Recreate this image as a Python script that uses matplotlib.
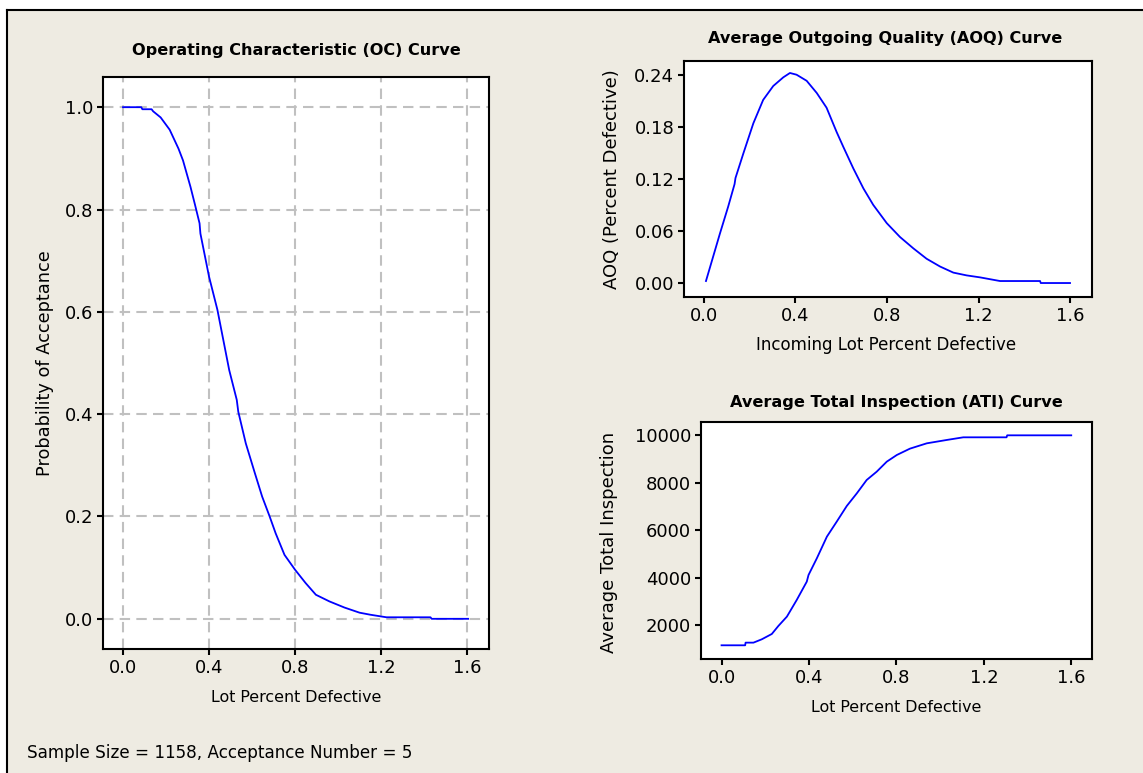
import matplotlib
matplotlib.use("Agg")
import matplotlib.pyplot as plt
from matplotlib.patches import Rectangle
from matplotlib.lines import Line2D

# ── Data (Minitab acceptance sampling plan) ──
oc_x = [0.0, 0.085, 0.09, 0.133, 0.14, 0.175, 0.217, 0.258, 0.279, 0.314,
        0.335, 0.356, 0.36, 0.4, 0.439, 0.494, 0.529, 0.536, 0.571, 0.613,
        0.647, 0.682, 0.71, 0.751, 0.8, 0.849, 0.897, 0.96, 1.03, 1.10,
        1.15, 1.225, 1.43, 1.435, 1.605]
oc_y = [1.0, 1.0, 0.996, 0.996, 0.992, 0.980, 0.956, 0.919, 0.896, 0.844,
        0.809, 0.773, 0.753, 0.669, 0.604, 0.486, 0.428, 0.405, 0.343, 0.285,
        0.239, 0.200, 0.167, 0.125, 0.096, 0.070, 0.047, 0.034, 0.022, 0.012,
        0.008, 0.003, 0.003, 0.0, 0.0]

aoq_x = [0.009, 0.07, 0.106, 0.134, 0.138, 0.172, 0.216, 0.259, 0.303, 0.347,
         0.376, 0.405, 0.449, 0.493, 0.536, 0.58, 0.609, 0.653, 0.697, 0.74,
         0.799, 0.857, 0.915, 0.973, 1.032, 1.09, 1.148, 1.207, 1.294, 1.469,
         1.472, 1.6]
aoq_y = [0.0023, 0.057, 0.088, 0.114, 0.121, 0.149, 0.184, 0.211, 0.227, 0.237,
         0.242, 0.240, 0.233, 0.219, 0.202, 0.174, 0.157, 0.132, 0.109, 0.090,
         0.069, 0.053, 0.040, 0.028, 0.019, 0.012, 0.0088, 0.0065, 0.0023, 0.0023,
         0.0, 0.0]

ati_x = [0.0, 0.108, 0.11, 0.146, 0.184, 0.23, 0.26, 0.299, 0.344, 0.39,
         0.398, 0.436, 0.482, 0.527, 0.573, 0.619, 0.664, 0.71, 0.756, 0.802,
         0.862, 0.939, 1.03, 1.106, 1.304, 1.307, 1.6]
ati_y = [1158, 1158, 1270, 1270, 1410, 1635, 1972, 2365, 3067, 3839,
         4119, 4821, 5733, 6365, 7025, 7558, 8119, 8470, 8891, 9172,
         9439, 9663, 9804, 9916, 9916, 10000, 10000]

x_ticks = [0.0, 0.4, 0.8, 1.2, 1.6]
oc_yticks = [0.0, 0.2, 0.4, 0.6, 0.8, 1.0]
aoq_yticks = [0.00, 0.06, 0.12, 0.18, 0.24]
ati_yticks = [2000, 4000, 6000, 8000, 10000]

footnote = "Sample Size = 1158, Acceptance Number = 5"

W, H = 1143, 773
BG = "#EEEBE2"
BLUE = "#0000FF"
FONT = "DejaVu Sans"

plt.rcParams["font.family"] = FONT

fig = plt.figure(figsize=(W / 100, H / 100), dpi=100)
fig.patch.set_facecolor("white")

# beige panel with black top/left frame
fig.patches.append(Rectangle((8 / W, 0), 1, 1 - 11 / H, transform=fig.transFigure,
                             facecolor=BG, edgecolor="none", zorder=-5))
fig.lines.append(Line2D([7 / W, 1], [1 - 10 / H, 1 - 10 / H], transform=fig.transFigure,
                        color="black", lw=1.5, zorder=-4))
fig.lines.append(Line2D([7 / W, 7 / W], [0, 1 - 10 / H], transform=fig.transFigure,
                        color="black", lw=1.5, zorder=-4))


def make_axes(l, t, r, b):
    ax = fig.add_axes([l / W, 1 - b / H, (r - l) / W, (b - t) / H])
    ax.set_facecolor("white")
    for s in ax.spines.values():
        s.set_linewidth(1.5)
        s.set_color("black")
    ax.tick_params(direction="out", length=4, width=1.5, labelsize=13,
                   top=False, right=False, pad=3)
    return ax


def ftext(x, y, s, **kw):
    fig.text(x / W, 1 - y / H, s, **kw)


# ── OC curve ──
ax1 = make_axes(103, 77, 489, 649)
ax1.plot(oc_x, oc_y, color=BLUE, lw=1.3)
ax1.set_xlim(-0.093, 1.702)
ax1.set_ylim(-0.059, 1.059)
ax1.set_xticks(x_ticks)
ax1.set_yticks(oc_yticks)
ax1.set_xticklabels([f"{v:.1f}" for v in x_ticks])
ax1.set_yticklabels([f"{v:.1f}" for v in oc_yticks])
ax1.grid(True, color="#C0C0C0", lw=1.5, linestyle=(0, (5, 3)))
ax1.set_axisbelow(True)
ftext(296, 50, "Operating Characteristic (OC) Curve", ha="center", va="center",
      fontsize=11.6, fontweight="bold")
ftext(296, 698, "Lot Percent Defective", ha="center", va="center", fontsize=11.4)
ftext(45, 363, "Probability of Acceptance", ha="center", va="center",
      rotation=90, fontsize=12.8)

# ── AOQ curve ──
ax2 = make_axes(684, 61, 1092, 297)
ax2.plot(aoq_x, aoq_y, color=BLUE, lw=1.3)
ax2.set_xlim(-0.087, 1.696)
ax2.set_ylim(-0.0161, 0.2558)
ax2.set_xticks(x_ticks)
ax2.set_yticks(aoq_yticks)
ax2.set_xticklabels([f"{v:.1f}" for v in x_ticks])
ax2.set_yticklabels([f"{v:.2f}" for v in aoq_yticks])
ftext(885, 39, "Average Outgoing Quality (AOQ) Curve", ha="center", va="center",
      fontsize=11.6, fontweight="bold")
ftext(886, 345, "Incoming Lot Percent Defective", ha="center", va="center", fontsize=12)
ftext(612, 179, "AOQ (Percent Defective)", ha="center", va="center",
      rotation=90, fontsize=13)

# ── ATI curve ──
ax3 = make_axes(701, 422, 1092, 659)
ax3.plot(ati_x, ati_y, color=BLUE, lw=1.3)
ax3.set_xlim(-0.094, 1.695)
ax3.set_ylim(581, 10561)
ax3.set_xticks(x_ticks)
ax3.set_yticks(ati_yticks)
ax3.set_xticklabels([f"{v:.1f}" for v in x_ticks])
ax3.set_yticklabels([str(v) for v in ati_yticks])
ftext(896, 402, "Average Total Inspection (ATI) Curve", ha="center", va="center",
      fontsize=11.6, fontweight="bold")
ftext(896, 707, "Lot Percent Defective", ha="center", va="center", fontsize=11.4)
ftext(609, 542, "Average Total Inspection", ha="center", va="center",
      rotation=90, fontsize=13)

ftext(27, 753, footnote, ha="left", va="center", fontsize=12.1)

fig.savefig("out.png", dpi=100, facecolor="white")
